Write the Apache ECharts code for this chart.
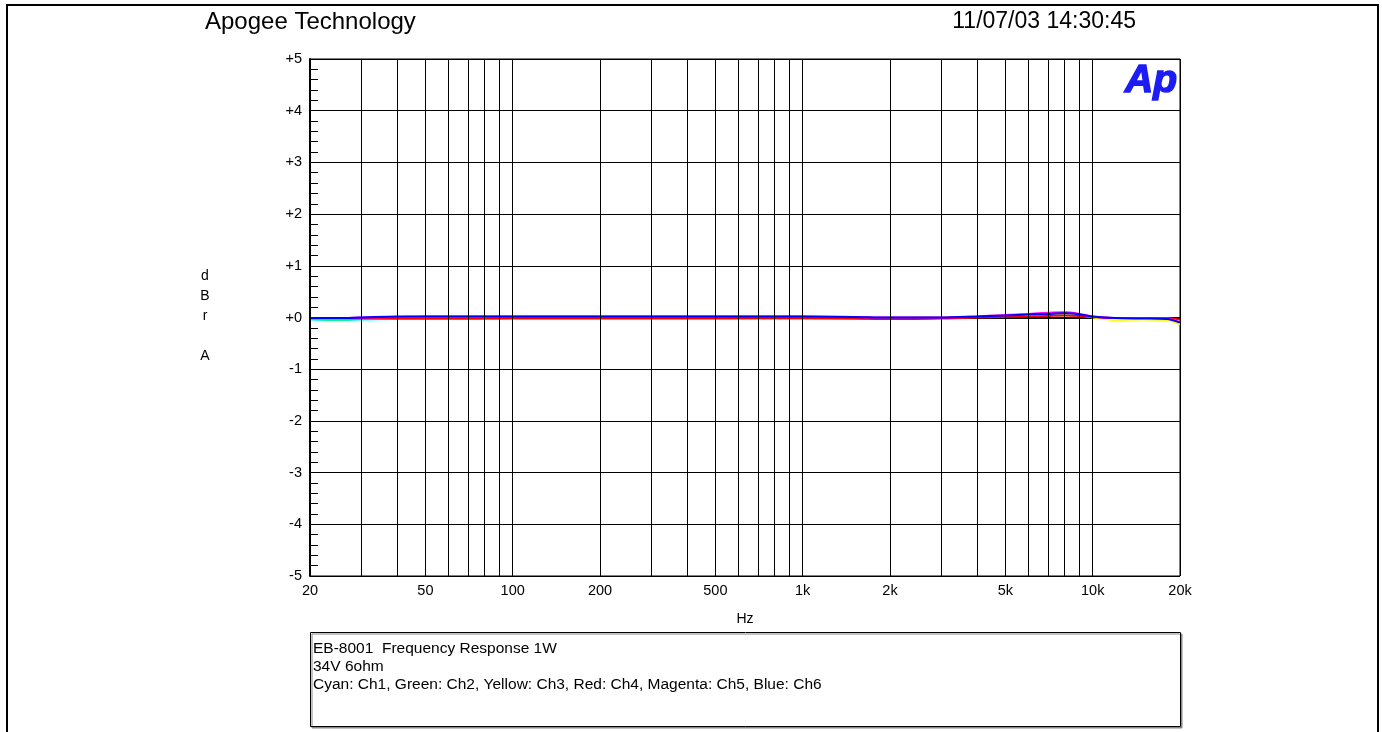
<!DOCTYPE html>
<html>
<head>
<meta charset="utf-8">
<script src="https://cdn.jsdelivr.net/npm/echarts@6/dist/echarts.min.js"></script>
<style>
html,body{margin:0;padding:0;background:#fff;}
#chart{width:1382px;height:732px;}
</style>
</head>
<body>
<div id="chart"></div>
<script>
// ---- data ----
const freqs = [20, 25, 30, 40, 50, 70, 100, 150, 200, 300, 500, 700, 1000, 1500, 2000, 3000, 4000, 5000, 6000, 7000, 8000, 9000, 10000, 12000, 15000, 18000, 20000];
const ch1Cyan    = [-0.04, -0.05, -0.04, -0.03, -0.03, -0.03, -0.03, -0.03, -0.03, -0.03, -0.03, -0.02, -0.02, -0.02, -0.02, -0.01, 0.01, 0.03, 0.05, 0.06, 0.07, 0.05, 0.01, -0.02, -0.02, -0.03, -0.11];
const ch2Green   = [-0.03, -0.04, -0.03, -0.02, -0.02, -0.02, -0.02, -0.02, -0.02, -0.02, -0.02, -0.02, -0.02, -0.02, -0.02, -0.01, 0.01, 0.03, 0.05, 0.06, 0.07, 0.05, 0.01, -0.03, -0.03, -0.04, -0.12];
const ch3Yellow  = [-0.03, -0.03, -0.02, -0.01, -0.01, -0.01, -0.01, -0.01, -0.01, -0.01, -0.01, -0.01, -0.01, -0.01, -0.01, 0.00, 0.02, 0.04, 0.05, 0.06, 0.06, 0.04, 0.00, -0.05, -0.04, -0.05, -0.13];
const ch4Red     = [-0.02, -0.02, -0.02, -0.02, -0.02, -0.02, -0.01, -0.01, -0.01, -0.01, -0.01, -0.01, -0.01, -0.02, -0.03, -0.02, 0.00, 0.01, 0.02, 0.03, 0.04, 0.03, 0.01, -0.01, -0.01, -0.01, -0.04];
const ch5Magenta = [-0.01, -0.01, 0.00, 0.01, 0.02, 0.02, 0.02, 0.02, 0.02, 0.02, 0.02, 0.02, 0.02, 0.01, 0.00, 0.00, 0.02, 0.05, 0.07, 0.09, 0.10, 0.07, 0.02, -0.01, -0.01, -0.02, -0.09];
const ch6Blue    = [-0.01, -0.01, 0.00, 0.02, 0.02, 0.02, 0.02, 0.02, 0.02, 0.02, 0.02, 0.02, 0.02, 0.01, 0.00, 0.00, 0.02, 0.04, 0.06, 0.07, 0.08, 0.06, 0.02, -0.01, -0.02, -0.03, -0.10];

const gridFreqs = [20,30,40,50,60,70,80,90,100,200,300,400,500,600,700,800,900,1000,2000,3000,4000,5000,6000,7000,8000,9000,10000,20000];
const xTickValues = [20, 50, 100, 200, 500, 1000, 2000, 5000, 10000, 20000];
const xTickLabels = ['20', '50', '100', '200', '500', '1k', '2k', '5k', '10k', '20k'];

const seriesNames = ['Ch1', 'Ch2', 'Ch3', 'Ch4', 'Ch5', 'Ch6'];
const seriesValues = [ch1Cyan, ch2Green, ch3Yellow, ch4Red, ch5Magenta, ch6Blue];
const seriesColors = ['#00ffff', '#00ff00', '#ffff00', '#ff0000', '#ff00ff', '#0000ff'];

const titleLeft = 'Apogee Technology';
const titleRight = '11/07/03 14:30:45';
const yAxisTitle = 'd\nB\nr\n\nA';
const xAxisTitle = 'Hz';
const noteLines = ['EB-8001  Frequency Response 1W', '34V 6ohm', 'Cyan: Ch1, Green: Ch2, Yellow: Ch3, Red: Ch4, Magenta: Ch5, Blue: Ch6'];

const FONT = '"Liberation Sans", Arial, sans-serif';

// ---- chart ----
const chart = echarts.init(document.getElementById('chart'), null, {renderer: 'canvas'});

const gridLineData = gridFreqs.map(f => {
  const idx = xTickValues.indexOf(f);
  const item = {xAxis: f};
  if (idx >= 0) {
    item.label = {show: true, formatter: xTickLabels[idx]};
  }
  return item;
});

const series = [{
  type: 'line',
  name: 'grid',
  data: [],
  z: 1,
  silent: true,
  markLine: {
    silent: true,
    animation: false,
    symbol: ['none', 'none'],
    lineStyle: {color: '#000', width: 1, type: 'solid'},
    emphasis: {disabled: true},
    label: {show: false, position: 'start', distance: 7, color: '#000', fontSize: 14.5, fontFamily: FONT},
    data: gridLineData
  }
}];

seriesValues.forEach((vals, i) => {
  series.push({
    type: 'line',
    name: seriesNames[i],
    data: freqs.map((f, j) => [f, vals[j]]),
    showSymbol: false,
    smooth: 0.3,
    z: 3,
    lineStyle: {color: seriesColors[i], width: 2},
    itemStyle: {color: seriesColors[i]},
    animation: false
  });
});

const option = {
  backgroundColor: '#fff',
  animation: false,
  grid: {left: 310, right: 202, top: 59, bottom: 156, show: true, borderColor: '#000', borderWidth: 1, backgroundColor: 'transparent'},
  xAxis: {
    type: 'log',
    logBase: 10,
    min: 20,
    max: 20000,
    name: xAxisTitle,
    nameLocation: 'middle',
    nameGap: 36,
    nameTextStyle: {color: '#000', fontSize: 14, fontFamily: FONT},
    axisLine: {show: true, lineStyle: {color: '#000', width: 2}},
    axisTick: {show: false},
    axisLabel: {show: false},
    splitLine: {show: false},
    minorTick: {show: false},
    minorSplitLine: {show: false}
  },
  yAxis: {
    type: 'value',
    min: -5,
    max: 5,
    interval: 1,
    axisLine: {show: true, lineStyle: {color: '#000', width: 2}},
    axisTick: {show: false, inside: true},
    minorTick: {show: true, splitNumber: 5, length: 8, lineStyle: {color: '#000', width: 1}},
    axisLabel: {
      color: '#000', fontSize: 14.5, fontFamily: FONT, margin: 8,
      formatter: v => (v > 0 ? '+' + v : (v === 0 ? '+0' : String(v)))
    },
    splitLine: {show: true, lineStyle: {color: '#000', width: 1}}
  },
  series: series,
  graphic: [
    {
      type: 'polyline', silent: true,
      shape: {points: [[7, 732], [7, 5], [1378, 5], [1378, 732]]},
      style: {stroke: '#000', lineWidth: 2, fill: null}
    },
    {
      type: 'text', silent: true, x: 205, y: 22,
      style: {text: titleLeft, font: '24px ' + FONT, fill: '#000', verticalAlign: 'middle', align: 'left'}
    },
    {
      type: 'text', silent: true, x: 1136, y: 22,
      style: {text: titleRight, font: '23px ' + FONT, fill: '#000', verticalAlign: 'middle', align: 'right'}
    },
    {
      type: 'text', silent: true, x: 1125, y: 81, z: 10,
      style: {text: 'Ap', font: 'italic bold 39px ' + FONT, fill: '#1c1cf5', stroke: '#1c1cf5', lineWidth: 1.5, verticalAlign: 'middle', align: 'left'}
    },
    {
      type: 'text', silent: true, x: 205, y: 266,
      style: {text: yAxisTitle, font: '14px ' + FONT, fill: '#000', lineHeight: 20, align: 'center', verticalAlign: 'top'}
    },
    {
      type: 'rect', silent: true,
      shape: {x: 310.5, y: 632.5, width: 870, height: 94},
      style: {fill: '#fff', stroke: '#000', lineWidth: 1, shadowColor: '#888', shadowOffsetX: 1.5, shadowOffsetY: 1.5, shadowBlur: 0}
    },
    {
      type: 'text', silent: true, x: 313, y: 640, z: 5,
      style: {text: noteLines.join('\n'), font: '15.5px ' + FONT, fill: '#000', lineHeight: 18, align: 'left', verticalAlign: 'top'}
    }
  ]
};

chart.setOption(option);
</script>
</body>
</html>
